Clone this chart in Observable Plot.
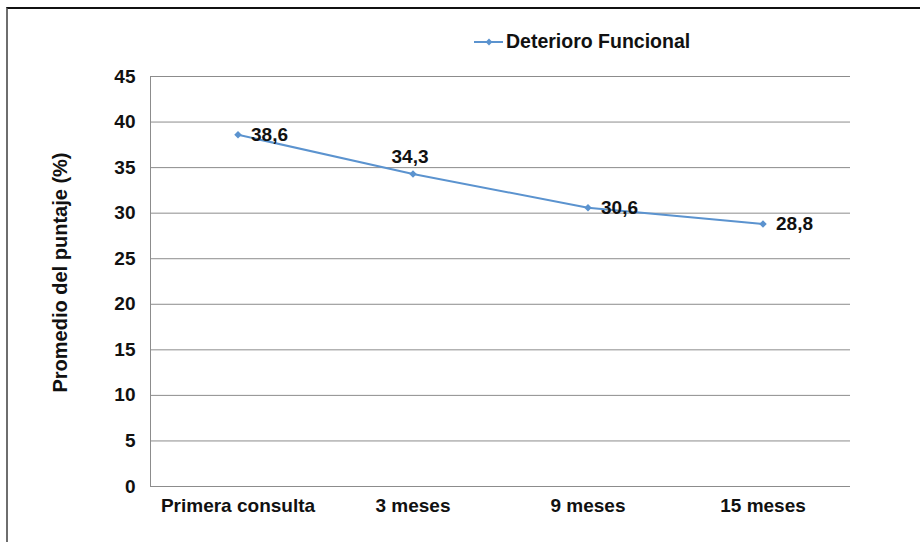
<!DOCTYPE html>
<html>
<head>
<meta charset="utf-8">
<script src="https://cdn.jsdelivr.net/npm/d3@7"></script>
<script src="https://cdn.jsdelivr.net/npm/@observablehq/plot@0.6"></script>
<style>
  html, body { margin: 0; padding: 0; background: #fff; }
  #page { position: relative; width: 920px; height: 542px; overflow: hidden; background: #fff;
          font-family: "Liberation Sans", Arial, sans-serif; }
  #frame { position: absolute; left: 6px; top: 7px; right: -4px; bottom: -4px;
           border-top: 2px solid #111; border-left: 2px solid #6e6e6e; }
  #legend { position: relative; height: 60px; }
  #legend .item { position: absolute; left: 474px; top: 30px; display: flex; align-items: center;
                  font-weight: bold; font-size: 19.5px; color: #111; }
  #chart { position: absolute; left: 0; top: 60px; }
</style>
</head>
<body>
<div id="page">
  <div id="frame"></div>
  <div id="legend"><div class="item"><svg width="30" height="12"><line x1="0" x2="29" y1="6" y2="6" stroke="#5b93cf" stroke-width="2"/><path d="M15,2.6L18.4,6L15,9.4L11.6,6Z" fill="#5b93cf"/></svg><span style="margin-left:2px">Deterioro Funcional</span></div></div>
  <div id="chart"></div>
</div>
<script>
// Average score per follow-up visit
const categories = ["Primera consulta", "3 meses", "9 meses", "15 meses"];
const values = [38.6, 34.3, 30.6, 28.8];
const yTicks = [0, 5, 10, 15, 20, 25, 30, 35, 40, 45];
const yTitle = "Promedio del puntaje (%)";

const seriesColor = "#5b93cf";
const data = categories.map((c, i) => ({category: c, value: values[i], i}));
const fmt = v => v.toFixed(1).replace(".", ",");

// label placement: the second point gets its label above, the rest to the right
const labelAbove = d => d.i === 1;

const chart = Plot.plot({
  width: 920,
  height: 482,
  marginTop: 16,
  marginBottom: 56,
  marginLeft: 150,
  marginRight: 70,
  style: {fontFamily: "Liberation Sans, Arial, sans-serif", background: "transparent"},
  x: {type: "band", domain: categories, padding: 0},
  y: {domain: [0, 45]},
  marks: [
    Plot.gridY(yTicks, {stroke: "#8c8c8c", strokeOpacity: 1, strokeWidth: 1}),
    Plot.frame({anchor: "left", stroke: "#8c8c8c", strokeWidth: 1}),
    Plot.axisY(yTicks, {tickSize: 0, tickPadding: 15, fontSize: 19, fontWeight: "bold", fill: "#111", label: null}),
    Plot.text([yTitle], {frameAnchor: "left", textAnchor: "middle", rotate: -90, dx: -90, dy: -9,
      fontSize: 20, fontWeight: "bold", fill: "#111"}),
    Plot.axisX({tickSize: 0, tickPadding: 12, fontSize: 19, fontWeight: "bold", fill: "#111", label: null}),
    Plot.line(data, {x: "category", y: "value", stroke: seriesColor, strokeWidth: 2}),
    Plot.dot(data, {x: "category", y: "value", symbol: "diamond2", r: 3.4, fill: seriesColor, stroke: "none"}),
    Plot.text(data.filter(d => !labelAbove(d)), {x: "category", y: "value", text: d => fmt(d.value),
      textAnchor: "start", dx: 13, fontSize: 19, fontWeight: "bold", fill: "#111"}),
    Plot.text(data.filter(labelAbove), {x: "category", y: "value", text: d => fmt(d.value),
      dx: -3, dy: -17, fontSize: 19, fontWeight: "bold", fill: "#111"})
  ]
});
document.getElementById("chart").appendChild(chart);
</script>
</body>
</html>
